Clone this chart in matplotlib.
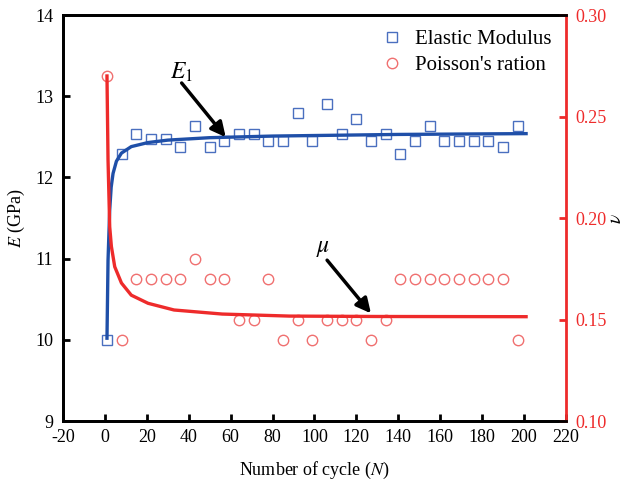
import numpy as np
import matplotlib
matplotlib.use('Agg')
from matplotlib import pyplot as plt
from matplotlib.lines import Line2D

plt.rcParams['font.family'] = ['Liberation Serif', 'DejaVu Serif']
plt.rcParams['mathtext.fontset'] = 'stix'
plt.rcParams['axes.unicode_minus'] = False

# data
cycles = [1, 8, 15, 22, 29, 36, 43, 50, 57, 64, 71, 78, 85, 92, 99, 106, 113,
          120, 127, 134, 141, 148, 155, 162, 169, 176, 183, 190, 197]
modulus = [10.0, 12.29, 12.54, 12.47, 12.47, 12.38, 12.63, 12.38, 12.45, 12.54,
           12.54, 12.45, 12.45, 12.80, 12.45, 12.90, 12.54, 12.72, 12.45, 12.54,
           12.29, 12.45, 12.63, 12.45, 12.45, 12.45, 12.45, 12.37, 12.63]
poisson = [0.27, 0.14, 0.17, 0.17, 0.17, 0.17, 0.18, 0.17, 0.17, 0.15, 0.15,
           0.17, 0.14, 0.15, 0.14, 0.15, 0.15, 0.15, 0.14, 0.15, 0.17, 0.17,
           0.17, 0.17, 0.17, 0.17, 0.17, 0.17, 0.14]

# fitted curves
fit_e_n = [1, 1.5, 2.3, 3.0, 3.9, 5.5, 7.9, 12.6, 20.6, 30, 50, 80, 110, 140, 170, 201]
fit_e = [10.02, 10.98, 11.6, 11.88, 12.05, 12.2, 12.30, 12.38, 12.43, 12.46,
         12.49, 12.51, 12.52, 12.53, 12.535, 12.54]
fit_nu_n = [1, 1.5, 2.3, 3.1, 4.7, 7.9, 12.6, 20.6, 33, 56, 88, 130, 201]
fit_nu = [0.27, 0.2286, 0.1957, 0.186, 0.176, 0.168, 0.162, 0.158, 0.1547,
          0.1527, 0.1517, 0.1515, 0.1514]

blue_pt = '#4A6FBF'
blue_ln = '#1F4FA8'
red_pt = '#F07070'
red_ln = '#EE2B2B'

fig = plt.figure(figsize=(6.26, 4.87), dpi=100)
ax = fig.add_axes([0.1006, 0.1355, 0.8034, 0.8335])
ax2 = ax.twinx()

ax.plot(cycles, modulus, 's', ms=7, mfc='none', mec=blue_pt, mew=1.0)
ax.plot(fit_e_n, fit_e, '-', color=blue_ln, lw=2.4)
ax2.plot(cycles, poisson, 'o', ms=7.5, mfc='none', mec=red_pt, mew=1.0)
ax2.plot(fit_nu_n, fit_nu, '-', color=red_ln, lw=2.4)

ax.set_xlim(-20, 220)
ax.set_xticks(np.arange(-20, 221, 20))
ax.set_ylim(9, 14)
ax.set_yticks(np.arange(9, 15, 1))
ax2.set_ylim(0.10, 0.30)
ax2.set_yticks([0.10, 0.15, 0.20, 0.25, 0.30])
ax2.set_yticklabels(['0.10', '0.15', '0.20', '0.25', '0.30'])

for s in ['left', 'bottom', 'top']:
    ax.spines[s].set_linewidth(2.0)
    ax2.spines[s].set_linewidth(2.0)
ax2.spines['right'].set_linewidth(2.0)
ax2.spines['right'].set_color(red_ln)
ax.spines['right'].set_visible(False)

ax.tick_params(axis='x', direction='in', length=5, width=2, labelsize=13, pad=6)
ax.tick_params(axis='y', direction='in', length=5, width=2, labelsize=13, pad=7)
ax2.tick_params(axis='y', direction='in', length=5, width=2, colors=red_ln,
                labelsize=13, pad=7)

ax.set_xlabel('Number of cycle ($N$)', fontsize=13, labelpad=10)
ax.set_ylabel('$E$ (GPa)', fontsize=13, labelpad=6)
ax2.set_ylabel(r'$\nu$', fontsize=14, labelpad=1)

# annotations
ax.text(36.4, 13.30, r'$E_{\mathit{1}}$', fontsize=17, ha='center', va='center')
ax.annotate('', xy=(58.5, 12.47), xytext=(35.8, 13.19),
            arrowprops=dict(arrowstyle='-|>', color='k', lw=2.5, mutation_scale=22))
ax2.text(104.3, 0.1852, r'$\mu$', fontsize=17, ha='center', va='center')
ax2.annotate('', xy=(127.8, 0.1520), xytext=(105.2, 0.1803),
             arrowprops=dict(arrowstyle='-|>', color='k', lw=2.5, mutation_scale=22))

handles = [Line2D([], [], ls='none', marker='s', ms=7, mfc='none', mec=blue_pt, mew=1.0),
           Line2D([], [], ls='none', marker='o', ms=7.5, mfc='none', mec=red_pt, mew=1.0)]
ax2.legend(handles, ['Elastic Modulus', "Poisson's ration"], loc='upper right',
           bbox_to_anchor=(1.0, 1.0), frameon=False, fontsize=15,
           handlelength=1.0, handletextpad=0.6, labelspacing=0.3, borderaxespad=0.3)

fig.savefig('out.png', dpi=100)
